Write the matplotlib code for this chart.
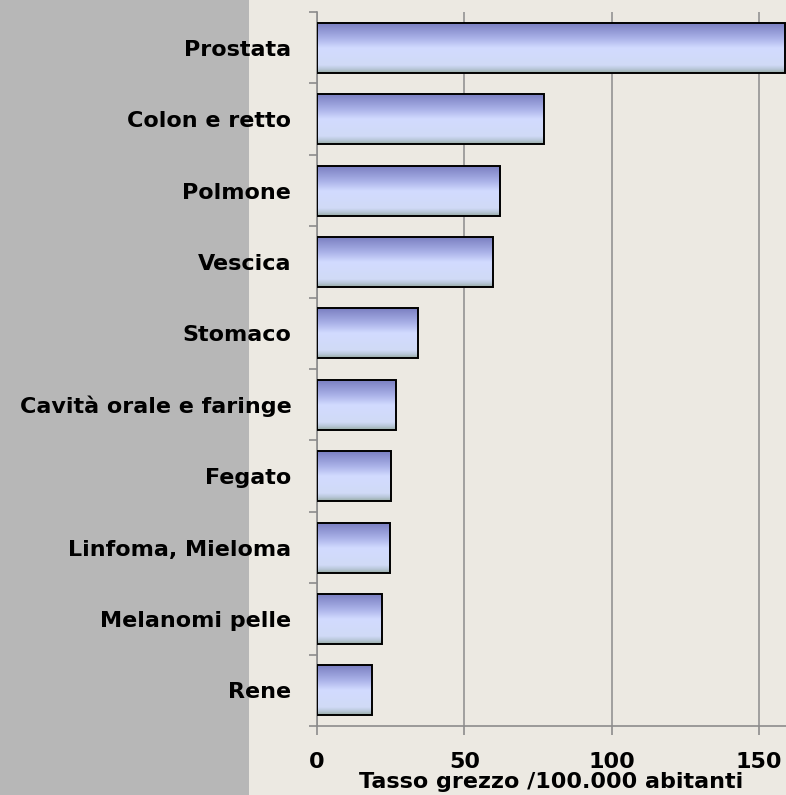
import matplotlib
matplotlib.use("Agg")
import matplotlib.pyplot as plt
from matplotlib.colors import LinearSegmentedColormap
from matplotlib.patches import Rectangle
import numpy as np

categories = ["Prostata", "Colon e retto", "Polmone", "Vescica", "Stomaco",
              "Cavità orale e faringe", "Fegato", "Linfoma, Mieloma",
              "Melanomi pelle", "Rene"]
values = [158.7, 77.0, 62.2, 59.6, 34.2, 26.7, 25.0, 24.7, 21.9, 18.5]
xticks = [0, 50, 100, 150]
xlabel = "Tasso grezzo /100.000 abitanti"

plt.rcParams["font.family"] = ["DejaVu Sans"]
plt.rcParams["font.weight"] = "bold"
fs = 16

fig = plt.figure(figsize=(7.86, 7.95), dpi=100, facecolor="#ece9e2")
fig.patches.append(Rectangle((0, 0), 249 / 786, 1, transform=fig.transFigure,
                             facecolor="#b7b7b7", edgecolor="none", zorder=0))
ax = fig.add_axes([317 / 786, 0.0868, 1 - 317 / 786, 0.898])
ax.set_zorder(2)
ax.set_facecolor("none")

# bar gradient, top to bottom
grad = LinearSegmentedColormap.from_list("bar", [
    (0.0, "#7b80c2"), (0.3, "#aab2e8"), (0.5, "#d2dbff"),
    (0.85, "#d0daf6"), (0.93, "#b8c6d8"), (1.0, "#9aaea8")])
g = np.linspace(0, 1, 64).reshape(-1, 1)

pos = np.arange(len(categories))
bars = ax.barh(pos, values, height=0.7, facecolor="none", edgecolor="black",
               linewidth=1.4, zorder=3)
for b in bars:
    x0, y0, w, h = b.get_x(), b.get_y(), b.get_width(), b.get_height()
    im = ax.imshow(g, cmap=grad, aspect="auto", origin="upper",
                   extent=(x0, x0 + w, y0 + h, y0), zorder=2)
    im.set_clip_path(b)

ax.set_xlim(0, 159.1)
ax.set_ylim(len(categories) - 0.5, -0.5)

ax.set_yticks(np.arange(-0.5, len(categories), 1))
ax.set_yticklabels([])
ax.set_yticks(pos, minor=True)
ax.set_yticklabels(categories, minor=True, fontsize=fs, fontweight="bold")
ax.tick_params(axis="y", which="major", length=6, width=1.2, color="#8c8c8c",
               direction="out")
ax.tick_params(axis="y", which="minor", length=0, pad=18.5)

ax.set_xticks(xticks)
ax.set_xticklabels([str(t) for t in xticks], fontsize=fs, fontweight="bold")
ax.tick_params(axis="x", length=6.5, width=1.2, color="#8c8c8c",
               direction="out", pad=12)
ax.set_xlabel(xlabel, fontsize=fs, fontweight="bold", labelpad=0)

ax.grid(axis="x", color="#8c8c8c", linewidth=1.1, zorder=1)
ax.set_axisbelow(True)
for s in ["top", "right"]:
    ax.spines[s].set_visible(False)
for s in ["left", "bottom"]:
    ax.spines[s].set_color("#8c8c8c")
    ax.spines[s].set_linewidth(1.2)

fig.savefig("out.png", dpi=100, facecolor=fig.get_facecolor())
